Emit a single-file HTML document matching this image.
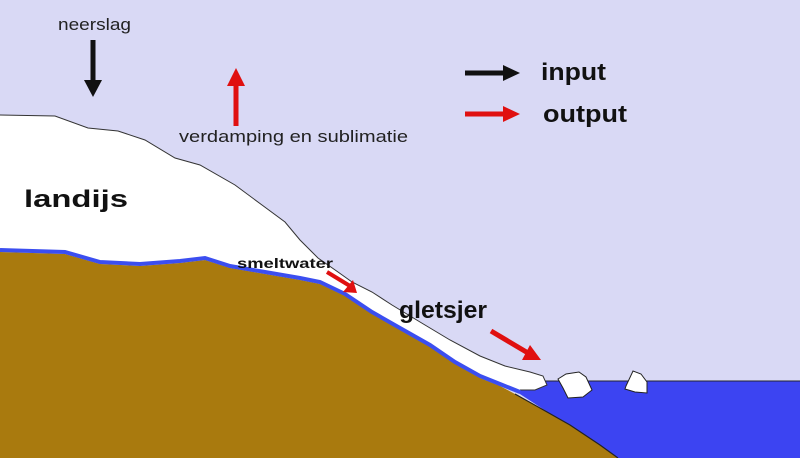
<!DOCTYPE html>
<html><head><meta charset="utf-8"><style>
html,body{margin:0;padding:0;background:#d9d9f5;}
svg{display:block}
text{font-family:"Liberation Sans",Arial,sans-serif;}
</style></head><body>
<svg width="800" height="458" viewBox="0 0 800 458" xmlns="http://www.w3.org/2000/svg">
<rect width="800" height="458" fill="#d9d9f5"/>
<!-- water -->
<polygon points="500,381 800,381 800,458 618,458" fill="#3c44f2"/>
<line x1="530" y1="381" x2="800" y2="381" stroke="#223" stroke-width="1"/>
<!-- ice fill -->
<path d="M0,115 L55,116 L88,128 L118,131 L145,140 L175,158 L200,165 L235,185 L262,205 L285,222 L300,240 L318,258 L338,272 L352,282 L372,292 L392,305 L420,322 L450,340 L480,356 L505,366 L530,372 L543,376 L547,385 L535,390 L520,390 L505,386 L480,376 L455,362 L430,345 L400,328 L372,312 L345,292 L320,282 L300,278 L265,272 L230,265 L205,258 L180,262 L140,264 L100,262 L65,252 L0,250 Z" fill="#fff"/>
<path d="M0,115 L55,116 L88,128 L118,131 L145,140 L175,158 L200,165 L235,185 L262,205 L285,222 L300,240 L318,258 L338,272 L352,282 L372,292 L392,305 L420,322 L450,340 L480,356 L505,366 L530,372 L543,376 L547,385 L535,390 L520,390" fill="none" stroke="#333" stroke-width="1"/>
<!-- ground -->
<path d="M0,252 L65,254 L100,264 L140,266 L180,263 L205,260 L230,268 L265,274 L300,280 L320,284 L345,296 L372,314 L400,330 L430,347 L455,364 L480,378 L500,386 L515,394 L540,408 L570,425 L600,445 L618,458 L0,458 Z" fill="#a97a0e"/>
<path d="M515,394 L540,408 L570,425 L600,445 L618,458" fill="none" stroke="#222" stroke-width="1.2"/>
<!-- meltwater line -->
<path d="M0,250 L65,252 L100,262 L140,264 L180,261 L205,258 L230,266 L265,272 L300,278 L320,282 L345,294 L372,312 L400,328 L430,345 L455,362 L480,376 L500,384 L520,392" fill="none" stroke="#3b4ef0" stroke-width="4"/>
<!-- icebergs -->
<path d="M558,379 L566,374 L579,372 L586,377 L592,390 L583,397 L568,398 L563,388 Z" fill="#fff" stroke="#222" stroke-width="1"/>
<path d="M626,386 L633,371 L641,374 L647,382 L647,393 L635,392 L625,389 Z" fill="#fff" stroke="#222" stroke-width="1"/>
<!-- arrows -->
<line x1="93" y1="40" x2="93" y2="82" stroke="#111" stroke-width="5"/>
<polygon points="84,80 102,80 93,97" fill="#111"/>
<line x1="236" y1="126" x2="236" y2="84" stroke="#e01010" stroke-width="5"/>
<polygon points="227,86 245,86 236,68" fill="#e01010"/>
<line x1="465" y1="73" x2="505" y2="73" stroke="#111" stroke-width="5"/>
<polygon points="503,65 520,73 503,81" fill="#111"/>
<line x1="465" y1="114" x2="505" y2="114" stroke="#e01010" stroke-width="5"/>
<polygon points="503,106 520,114 503,122" fill="#e01010"/>
<line x1="327" y1="272" x2="350" y2="286" stroke="#e01010" stroke-width="4"/>
<polygon points="353,280 357,293 343,292" fill="#e01010"/>
<line x1="491" y1="331" x2="528" y2="353" stroke="#e01010" stroke-width="5"/>
<polygon points="530,345 541,360 522,360" fill="#e01010"/>
<!-- labels -->
<text x="58" y="30" font-size="17" fill="#222" textLength="73" lengthAdjust="spacingAndGlyphs">neerslag</text>
<text x="179" y="142" font-size="17" fill="#222" textLength="229" lengthAdjust="spacingAndGlyphs">verdamping en sublimatie</text>
<text x="24" y="207" font-size="24" font-weight="bold" fill="#111" textLength="104" lengthAdjust="spacingAndGlyphs">landijs</text>
<text x="237" y="268" font-size="14" font-weight="bold" fill="#111" textLength="96" lengthAdjust="spacingAndGlyphs">smeltwater</text>
<text x="399" y="318" font-size="24" font-weight="bold" fill="#111" textLength="88" lengthAdjust="spacingAndGlyphs">gletsjer</text>
<text x="541" y="80" font-size="24" font-weight="bold" fill="#111" textLength="65" lengthAdjust="spacingAndGlyphs">input</text>
<text x="543" y="122" font-size="24" font-weight="bold" fill="#111" textLength="84" lengthAdjust="spacingAndGlyphs">output</text>
</svg>
</body></html>
